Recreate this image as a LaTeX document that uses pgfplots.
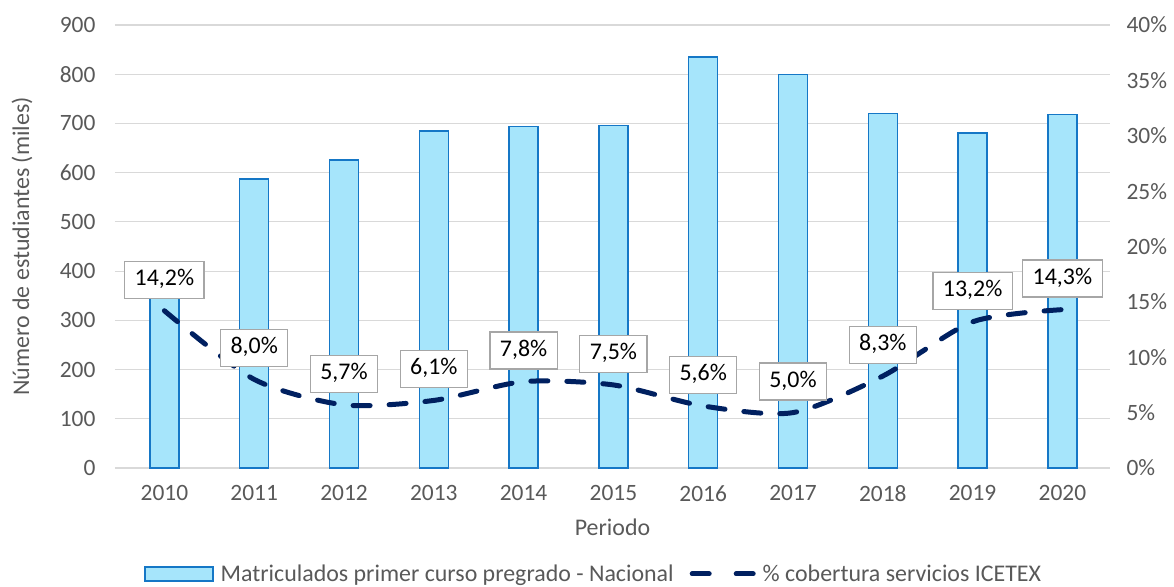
\documentclass[border=0pt]{standalone}
\usepackage{pgfplots}
\pgfplotsset{compat=1.18}
\usepackage{fontspec}
\setmainfont{Carlito}
\definecolor{barfill}{HTML}{A6E5FB}
\definecolor{baredge}{HTML}{1577C6}
\definecolor{navy}{HTML}{002060}
\definecolor{txt}{HTML}{595959}
\definecolor{gridc}{HTML}{D9D9D9}
\definecolor{boxc}{HTML}{A6A6A6}
\begin{document}
\begin{tikzpicture}[font=\fontsize{24}{28}\selectfont]
\begin{axis}[
  scale only axis, width=995bp, height=443bp,
  xmin=-0.55, xmax=10.53, ymin=0, ymax=900,
  ytick={0,100,...,900},
  xtick={0,...,10},
  xticklabels={2010,2011,2012,2013,2014,2015,2016,2017,2018,2019,2020},
  axis line style={draw=none},
  tick style={draw=none},
  ymajorgrids, grid style={gridc, line width=1.2bp},
  /pgf/number format/assume math mode=true,
  ticklabel style={text=txt, font=\fontsize{23.5}{27}\selectfont},
  yticklabel style={xshift=-16bp},
  xticklabel style={yshift=-14bp},
  ylabel={Número de estudiantes (miles)},
  ylabel style={at={(axis description cs:-0.0935,0.5)}, anchor=center, text=txt},
  xlabel={Periodo},
  xlabel style={at={(axis description cs:0.5,-0.133)}, anchor=center, text=txt},
  legend columns=2,
  legend style={at={(axis description cs:0.481,-0.239)}, anchor=center, draw=none,
    text=txt, font=\fontsize{24}{28}\selectfont, inner sep=0pt,
    /tikz/every odd column/.append style={column sep=5bp},
    /tikz/every even column/.append style={column sep=14bp}},
]
\addplot[ybar, bar width=29bp, fill=barfill, draw=baredge, line width=1.5bp,
  legend image code/.code={\draw[fill=barfill, draw=baredge, line width=1.5bp] (0bp,-7bp) rectangle (68bp,7bp);}]
  coordinates {(0,360) (1,587) (2,626) (3,685) (4,694) (5,696) (6,835) (7,799) (8,720) (9,681) (10,718)};
\addlegendentry{Matriculados primer curso pregrado - Nacional}
\addlegendimage{legend image code/.code={\draw[navy, line width=5bp, line cap=round] (3bp,0) -- (20bp,0) (47bp,0) -- (64bp,0);}}
\addlegendentry{\% cobertura servicios ICETEX}
\end{axis}
\begin{axis}[
  scale only axis, width=995bp, height=443bp,
  xmin=-0.55, xmax=10.53, ymin=0, ymax=40,
  ytick={0,5,...,40},
  axis y line*=right, axis x line=none,
  axis line style={draw=none},
  tick style={draw=none},
  /pgf/number format/assume math mode=true,
  yticklabel={\pgfmathprintnumber{\tick}\%},
  ticklabel style={text=txt, font=\fontsize{23.5}{27}\selectfont},
  yticklabel style={xshift=13bp},
]
\addplot[navy, line width=5bp, line cap=round, dash pattern=on 17bp off 19bp, smooth, tension=0.45,
  point meta=explicit symbolic,
  nodes near coords,
  every node near coord/.append style={solid, draw=boxc, line width=1.2bp, fill=white, text=black,
    inner xsep=10bp, inner ysep=9bp, text height=15bp, text depth=4bp, anchor=south, yshift=12bp,
    font=\fontsize{24}{28}\selectfont}]
  coordinates {(0,14.2) [14,2\%] (1,8.0) [8,0\%] (2,5.7) [5,7\%] (3,6.1) [6,1\%] (4,7.8) [7,8\%]
    (5,7.5) [7,5\%] (6,5.6) [5,6\%] (7,5.0) [5,0\%] (8,8.3) [8,3\%] (9,13.2) [13,2\%] (10,14.3) [14,3\%]};
\end{axis}
\pgfresetboundingbox
\path[use as bounding box] (-115bp,-119bp) rectangle (1059bp,468bp);
\end{tikzpicture}
\end{document}
